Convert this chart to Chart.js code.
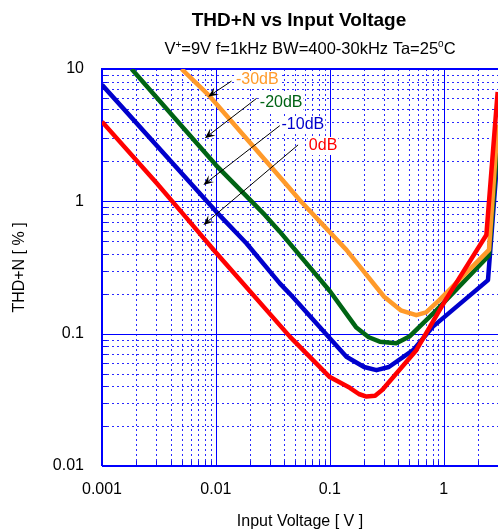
<html><head><meta charset="UTF-8"><meta name="viewport" content="width=device-width, initial-scale=1.0">
<title>THD+N vs Input Voltage</title>
<script src="https://cdn.jsdelivr.net/npm/chart.js"></script>
<style>
body {
  margin: 0;
  background: #ffffff;
}
.chart-box {
  position: relative;
  width: 498px;
  height: 531px;
}
</style>
</head>
<body>
<div class="chart-box">
  <canvas id="thdChart"></canvas>
</div>

<script>
// Input voltage [V] / THD+N [%] for each output level
const seriesNames = ['0dB', '-10dB', '-20dB', '-30dB'];

const vin0dB  = [0.001, 0.003, 0.0053, 0.01, 0.0446, 0.1, 0.15, 0.18, 0.21, 0.25, 0.29, 0.575, 1.04, 2.37, 2.98];
const thd0dB  = [4.0, 1.38, 0.78, 0.41, 0.095, 0.047, 0.039, 0.035, 0.0335, 0.034, 0.0377, 0.075, 0.18, 0.556, 6.7];

const vin10dB = [0.001, 0.01, 0.0186, 0.0364, 0.0446, 0.14, 0.2, 0.257, 0.33, 0.539, 0.805, 2.45, 2.98];
const thd10dB = [7.6, 0.84, 0.48, 0.24, 0.20, 0.067, 0.056, 0.053, 0.056, 0.075, 0.113, 0.254, 2.3];

const vin20dB = [0.00182, 0.01, 0.0269, 0.0364, 0.1, 0.17, 0.22, 0.275, 0.384, 0.5, 0.861, 2.5, 2.98];
const thd20dB = [10, 1.88, 0.79, 0.59, 0.21, 0.112, 0.094, 0.087, 0.0845, 0.095, 0.15, 0.39, 2.8];

const vin30dB = [0.005, 0.00886, 0.0446, 0.0546, 0.14, 0.3, 0.42, 0.575, 0.7, 0.92, 2.5, 2.98];
const thd30dB = [10, 6.2, 1.25, 1.02, 0.43, 0.19, 0.15, 0.138, 0.145, 0.18, 0.43, 3.8];

// axis ticks (labelled decades) and grid subdivisions
const xTickValues = [0.001, 0.01, 0.1, 1];
const xTickLabels = ['0.001', '0.01', '0.1', '1'];
const yTickValues = [0.01, 0.1, 1, 10];
const yTickLabels = ['0.01', '0.1', '1', '10'];
const minorSteps = [2, 3, 4, 5, 6, 7, 8, 9];

// arrow callouts: [label, label x, label y, tail x, tail y, head x, head y]
const callouts = [
  ['-30dB', 0.015,  8.26, 0.0137, 8.1,  0.00855, 6.18],
  ['-20dB', 0.0243, 5.53, 0.0228, 6.0,  0.0080,  3.0],
  ['-10dB', 0.0377, 3.77, 0.0364, 3.73, 0.00777, 1.33],
  ['0dB',   0.0655, 2.62, 0.0527, 2.67, 0.00777, 0.662]
];

const lineColors = ['#ff0000', '#0000cc', '#006414', '#ff9a2a'];
const FONT = 'Arial, "Liberation Sans", sans-serif';

function toPoints(xs, ys) {
  return xs.map((v, i) => ({ x: v, y: ys[i] }));
}

function gridValues(decades) {
  const out = [];
  decades.forEach(d => minorSteps.forEach(s => out.push(+(d * s).toPrecision(3))));
  return out;
}

// dotted minor grid, solid decade lines and small inner ticks
const logGrid = {
  id: 'logGrid',
  beforeDatasetsDraw(chart) {
    const { ctx, chartArea: a, scales: { x, y } } = chart;
    const minorX = gridValues([0.001, 0.01, 0.1, 1]).filter(v => v < x.max);
    const minorY = gridValues([0.01, 0.1, 1]);
    ctx.save();
    ctx.lineWidth = 1;

    ctx.strokeStyle = '#2a2aff';
    ctx.setLineDash([2, 3]);
    minorX.forEach(v => {
      const px = Math.round(x.getPixelForValue(v)) + 0.5;
      ctx.beginPath(); ctx.moveTo(px, a.top); ctx.lineTo(px, a.bottom); ctx.stroke();
    });
    minorY.forEach(v => {
      const py = Math.round(y.getPixelForValue(v)) + 0.5;
      ctx.beginPath(); ctx.moveTo(a.left, py); ctx.lineTo(a.right, py); ctx.stroke();
    });

    ctx.setLineDash([]);
    ctx.strokeStyle = '#1010ee';
    minorX.forEach(v => {
      const px = Math.round(x.getPixelForValue(v)) + 0.5;
      ctx.beginPath(); ctx.moveTo(px, a.bottom); ctx.lineTo(px, a.bottom - 5); ctx.stroke();
    });
    minorY.forEach(v => {
      const py = Math.round(y.getPixelForValue(v)) + 0.5;
      ctx.beginPath(); ctx.moveTo(a.left, py); ctx.lineTo(a.left + 5, py); ctx.stroke();
    });

    ctx.strokeStyle = '#0000ff';
    xTickValues.forEach(v => {
      const px = Math.round(x.getPixelForValue(v)) + 0.5;
      ctx.beginPath(); ctx.moveTo(px, a.top); ctx.lineTo(px, a.bottom); ctx.stroke();
    });
    yTickValues.forEach(v => {
      const py = Math.round(y.getPixelForValue(v)) + 0.5;
      ctx.beginPath(); ctx.moveTo(a.left, py); ctx.lineTo(a.right, py); ctx.stroke();
    });

    // frame
    ctx.lineWidth = 2;
    ctx.beginPath();
    ctx.moveTo(a.left, a.bottom); ctx.lineTo(a.left, a.top); ctx.lineTo(a.right, a.top);
    ctx.moveTo(a.left, a.bottom); ctx.lineTo(a.right, a.bottom);
    ctx.stroke();
    ctx.restore();
  }
};

// callout labels with arrows pointing at each curve
const calloutPlugin = {
  id: 'callouts',
  afterDatasetsDraw(chart) {
    const { ctx, scales: { x, y } } = chart;
    ctx.save();
    callouts.forEach((c, i) => {
      const tx = x.getPixelForValue(c[3]), ty = y.getPixelForValue(c[4]);
      const hx = x.getPixelForValue(c[5]), hy = y.getPixelForValue(c[6]);
      const ang = Math.atan2(hy - ty, hx - tx);
      ctx.strokeStyle = '#000';
      ctx.fillStyle = '#000';
      ctx.lineWidth = 1;
      ctx.beginPath(); ctx.moveTo(tx, ty); ctx.lineTo(hx - 6 * Math.cos(ang), hy - 6 * Math.sin(ang)); ctx.stroke();
      ctx.beginPath();
      ctx.moveTo(hx, hy);
      ctx.lineTo(hx - 11 * Math.cos(ang - 0.4), hy - 11 * Math.sin(ang - 0.4));
      ctx.lineTo(hx - 6 * Math.cos(ang), hy - 6 * Math.sin(ang));
      ctx.lineTo(hx - 11 * Math.cos(ang + 0.4), hy - 11 * Math.sin(ang + 0.4));
      ctx.closePath();
      ctx.fill();

      const lx = x.getPixelForValue(c[1]), ly = y.getPixelForValue(c[2]);
      ctx.font = '16px ' + FONT;
      ctx.textAlign = 'left';
      ctx.textBaseline = 'middle';
      const w = ctx.measureText(c[0]).width;
      ctx.fillStyle = '#ffffff';
      ctx.fillRect(lx - 1, ly - 9, w + 2, 18);
      ctx.fillStyle = lineColors[3 - i];
      ctx.fillText(c[0], lx, ly);
    });
    ctx.restore();
  }
};

// chart title and the measurement conditions line (with superscripts)
const headings = {
  id: 'headings',
  afterDraw(chart) {
    const { ctx } = chart;
    ctx.save();
    ctx.fillStyle = '#000';
    ctx.textBaseline = 'alphabetic';
    ctx.textAlign = 'center';
    ctx.font = 'bold 19px ' + FONT;
    ctx.fillText('THD+N vs Input Voltage', 299, 26);

    const parts = [
      ['V', 16.5, 0], ['+', 10, -6], ['=9V f=1kHz BW=400-30kHz Ta=25', 16.5, 0], ['o', 10, -7], ['C', 16.5, 0]
    ];
    ctx.textAlign = 'left';
    let total = 0;
    parts.forEach(p => { ctx.font = p[1] + 'px ' + FONT; total += ctx.measureText(p[0]).width; });
    let cx = 310 - total / 2;
    parts.forEach(p => {
      ctx.font = p[1] + 'px ' + FONT;
      ctx.fillText(p[0], cx, 54 + p[2]);
      cx += ctx.measureText(p[0]).width;
    });
    ctx.restore();
  }
};

const series = [
  toPoints(vin0dB, thd0dB),
  toPoints(vin10dB, thd10dB),
  toPoints(vin20dB, thd20dB),
  toPoints(vin30dB, thd30dB)
];

// dataset 0 is drawn last, so red sits on top, then orange, green, blue
const drawOrder = [0, 3, 2, 1];

new Chart(document.getElementById('thdChart'), {
  type: 'line',
  data: {
    datasets: drawOrder.map(i => ({
      label: seriesNames[i],
      data: series[i],
      borderColor: lineColors[i],
      borderWidth: 4.5,
      borderJoinStyle: 'round',
      pointRadius: 0,
      tension: 0,
      fill: false
    }))
  },
  options: {
    responsive: true,
    maintainAspectRatio: false,
    animation: false,
    layout: { padding: { top: 69, left: 0, right: 0, bottom: 0 } },
    plugins: {
      legend: { display: false },
      tooltip: { enabled: false }
    },
    scales: {
      x: {
        type: 'logarithmic',
        min: 0.001,
        max: 3,
        afterBuildTicks: s => { s.ticks = xTickValues.map(v => ({ value: v })); },
        afterFit: s => { s.height = 65; },
        grid: { display: false },
        border: { display: false },
        ticks: {
          autoSkip: false,
          maxRotation: 0,
          padding: 6,
          color: '#000',
          font: { family: FONT, size: 16 },
          callback: (v, i) => xTickLabels[i]
        },
        title: {
          display: true,
          text: 'Input Voltage [ V ]',
          color: '#000',
          font: { family: FONT, size: 16 },
          padding: { top: 0, bottom: 0 }
        }
      },
      y: {
        type: 'logarithmic',
        min: 0.01,
        max: 10,
        afterBuildTicks: s => { s.ticks = yTickValues.map(v => ({ value: v })); },
        afterFit: s => { s.width = 102; },
        grid: { display: false },
        border: { display: false },
        ticks: {
          autoSkip: false,
          padding: 10,
          color: '#000',
          font: { family: FONT, size: 16 },
          callback: (v, i) => yTickLabels[i]
        },
        title: {
          display: true,
          text: 'THD+N [ % ]',
          color: '#000',
          font: { family: FONT, size: 16 },
          padding: { top: 10, bottom: 0 }
        }
      }
    }
  },
  plugins: [logGrid, calloutPlugin, headings]
});
</script>
</body></html>
